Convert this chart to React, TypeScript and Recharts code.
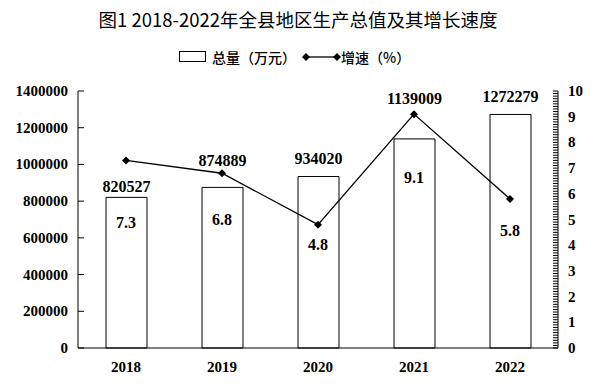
import React from 'react';
import { ComposedChart, Bar, Line, XAxis, YAxis, LabelList } from 'recharts';

const years = ['2018', '2019', '2020', '2021', '2022'];
const totals = [820527, 874889, 934020, 1139009, 1272279];
const growth = [7.3, 6.8, 4.8, 9.1, 5.8];

const leftTicks = [0, 200000, 400000, 600000, 800000, 1000000, 1200000, 1400000];
const rightMajor = [0, 1, 2, 3, 4, 5, 6, 7, 8, 9, 10];

// minor ticks on the right axis, every 0.1
const rightTicks: number[] = [];
rightMajor.slice(0, -1).forEach((m) => {
  for (let i = 0; i < 10; i++) rightTicks.push((m * 10 + i) / 10);
});
rightTicks.push(10);

// hand placed label offsets, like the original
const totalLift = [11, 27, 18, 40, 18];
const growthDrop = [62, 46, 20, 63, 32];

const data = years.map((year, i) => ({ year, total: totals[i], growth: growth[i] }));

const NUM_FONT = "'Liberation Serif', 'Times New Roman', serif";
const CJK_FONT = "'Noto Sans CJK SC', sans-serif";

const LeftTick = (props: any) => {
  const { x, y, payload } = props;
  return (
    <g>
      <line x1={x + 10} y1={y} x2={x + 16} y2={y} stroke="#000" />
      <text x={x} y={y} textAnchor="end" dominantBaseline="central" fontFamily={NUM_FONT} fontWeight="bold" fontSize={15} fill="#000">
        {payload.value}
      </text>
    </g>
  );
};

const RightTick = (props: any) => {
  const { x, y, payload } = props;
  const major = Number.isInteger(payload.value);
  return (
    <g>
      <line x1={x - 10} y1={y} x2={x - 15} y2={y} stroke="#000" />
      {major && (
        <text x={x} y={y} textAnchor="start" dominantBaseline="central" fontFamily={NUM_FONT} fontWeight="bold" fontSize={15} fill="#000">
          {payload.value}
        </text>
      )}
    </g>
  );
};

const YearTick = (props: any) => {
  const { x, y, payload } = props;
  return (
    <text x={x} y={y} textAnchor="middle" dominantBaseline="hanging" fontFamily={NUM_FONT} fontWeight="bold" fontSize={15} fill="#000">
      {payload.value}
    </text>
  );
};

const TotalLabel = (props: any) => {
  const { x, y, width, value, index } = props;
  return (
    <text x={x + width / 2} y={y - totalLift[index]} textAnchor="middle" dominantBaseline="central" fontFamily={NUM_FONT} fontWeight="bold" fontSize={16} fill="#000">
      {value}
    </text>
  );
};

const GrowthLabel = (props: any) => {
  const { x, y, value, index } = props;
  return (
    <text x={x} y={y + growthDrop[index]} textAnchor="middle" dominantBaseline="central" fontFamily={NUM_FONT} fontWeight="bold" fontSize={16} fill="#000">
      {value.toFixed(1)}
    </text>
  );
};

const Diamond = (props: any) => {
  const { cx, cy } = props;
  if (cx == null || cy == null) return null;
  const r = 4;
  return <path d={`M${cx},${cy - r}L${cx + r},${cy}L${cx},${cy + r}L${cx - r},${cy}Z`} fill="#000" />;
};

export default function App() {
  return (
    <div style={{ position: 'absolute', left: 0, top: 0, width: 596, height: 389, background: '#fff' }}>
      <div
        style={{
          position: 'absolute',
          left: 0,
          top: 7,
          width: 596,
          textAlign: 'center',
          fontFamily: CJK_FONT,
          fontSize: 18.5,
          lineHeight: '24px',
          fontWeight: 400,
          color: '#000',
        }}
      >
        图1 2018-2022年全县地区生产总值及其增长速度
      </div>
      <svg style={{ position: 'absolute', left: 0, top: 44 }} width={596} height={26}>
        <rect x={179.5} y={7.5} width={26} height={10} fill="#fff" stroke="#000" />
        <text x={212} y={13} dominantBaseline="central" fontFamily={CJK_FONT} fontSize={14} fontWeight={500} fill="#000">
          总量（万元）
        </text>
        <line x1={306} y1={13} x2={337} y2={13} stroke="#000" strokeWidth={1.3} />
        <Diamond cx={306} cy={13} />
        <Diamond cx={337} cy={13} />
        <text x={341} y={13} dominantBaseline="central" fontFamily={CJK_FONT} fontSize={14} fontWeight={500} fill="#000">
          增速（%）
        </text>
      </svg>
      <ComposedChart width={596} height={389} data={data} margin={{ top: 91, right: 0, bottom: 11, left: 0 }}>
        <XAxis
          dataKey="year"
          axisLine={{ stroke: '#000' }}
          tickLine={false}
          tickSize={0}
          tickMargin={14}
          height={30}
          tick={<YearTick />}
        />
        <YAxis
          yAxisId="left"
          domain={[0, 1400000]}
          ticks={leftTicks}
          interval={0}
          width={78}
          axisLine={{ stroke: '#000' }}
          tickLine={false}
          tickSize={0}
          tickMargin={10}
          tick={<LeftTick />}
        />
        <YAxis
          yAxisId="right"
          orientation="right"
          domain={[0, 10]}
          ticks={rightTicks}
          interval={0}
          width={38}
          axisLine={{ stroke: '#000' }}
          tickLine={false}
          tickSize={0}
          tickMargin={10}
          tick={<RightTick />}
        />
        <Bar yAxisId="left" dataKey="total" barSize={41} fill="#fff" stroke="#000" strokeWidth={1} isAnimationActive={false}>
          <LabelList dataKey="total" content={<TotalLabel />} />
        </Bar>
        <Line
          yAxisId="right"
          dataKey="growth"
          stroke="#000"
          strokeWidth={1.3}
          dot={<Diamond />}
          activeDot={false}
          isAnimationActive={false}
        >
          <LabelList dataKey="growth" content={<GrowthLabel />} />
        </Line>
      </ComposedChart>
    </div>
  );
}
